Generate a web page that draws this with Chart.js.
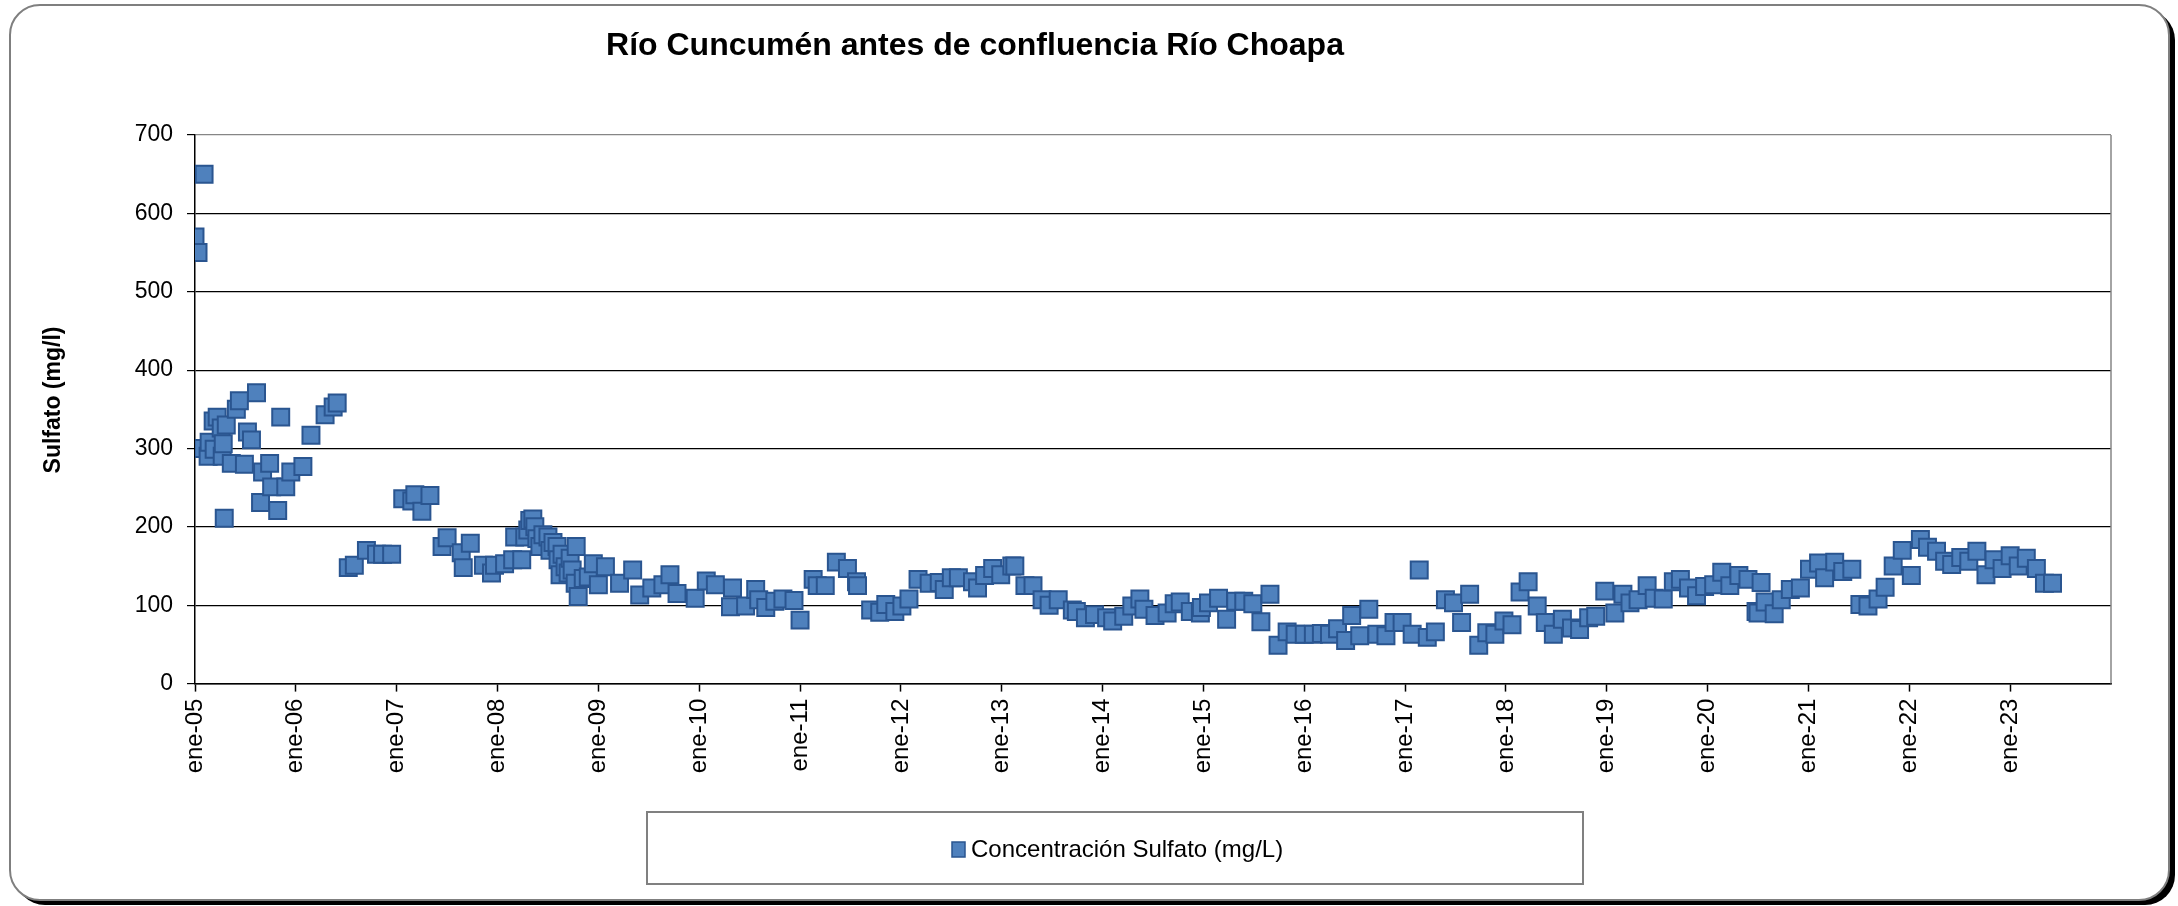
<!DOCTYPE html>
<html>
<head>
<meta charset="utf-8">
<script src="https://cdn.jsdelivr.net/npm/chart.js@4.4.1/dist/chart.umd.min.js"></script>
<style>
html,body{margin:0;padding:0;background:#fff;}
canvas{display:block;}
</style>
</head>
<body>
<canvas id="c" width="2178" height="906"></canvas>
<script>
// ---- texts ----
const titulo = 'Río Cuncumén antes de confluencia Río Choapa';
const tituloEjeY = 'Sulfato (mg/l)';
const nombreSerie = 'Concentración Sulfato (mg/L)';

// ---- tick labels ----
const aniosTicks = [2005,2006,2007,2008,2009,2010,2011,2012,2013,2014,2015,2016,2017,2018,2019,2020,2021,2022,2023];
const etiquetasX = ['ene-05','ene-06','ene-07','ene-08','ene-09','ene-10','ene-11','ene-12','ene-13','ene-14','ene-15','ene-16','ene-17','ene-18','ene-19','ene-20','ene-21','ene-22','ene-23'];
const ticksY = [0,100,200,300,400,500,600,700];

// ---- data: sampling date (decimal year) and sulfate (mg/l) ----
const fechas = [
2005.00,2005.03,2005.08,2005.09,2005.13,2005.14,2005.18,2005.19,2005.22,2005.26,2005.27,2005.28,2005.29,2005.31,2005.36,2005.41,2005.44,2005.49,2005.52,2005.56,2005.61,2005.65,2005.67,2005.74,2005.76,2005.82,2005.85,2005.90,2005.95,
2006.07,2006.15,2006.29,2006.37,2006.41,2006.52,2006.58,2006.70,2006.80,2006.86,2006.95,
2007.06,2007.15,2007.18,2007.25,2007.33,2007.45,2007.50,2007.64,2007.66,2007.73,2007.86,2007.94,2007.97,
2008.07,2008.15,2008.17,2008.24,2008.27,2008.30,2008.32,2008.35,2008.37,2008.39,2008.42,2008.45,2008.50,2008.52,2008.55,2008.59,2008.60,2008.62,2008.64,2008.67,2008.70,2008.72,2008.74,2008.77,2008.78,2008.80,2008.85,2008.90,2008.95,
2009.00,2009.07,2009.21,2009.34,2009.41,2009.53,2009.64,2009.71,2009.78,2009.96,
2010.07,2010.16,2010.31,2010.33,2010.46,2010.56,2010.59,2010.66,2010.75,2010.83,2010.94,
2011.00,2011.13,2011.17,2011.25,2011.36,2011.47,2011.56,2011.57,2011.70,2011.79,2011.85,2011.94,
2012.01,2012.08,2012.17,2012.28,2012.38,2012.43,2012.50,2012.57,2012.71,2012.76,2012.83,2012.91,2012.99,
2013.10,2013.13,2013.23,2013.31,2013.40,2013.47,2013.56,2013.70,2013.74,2013.83,2013.92,
2014.04,2014.10,2014.21,2014.29,2014.37,2014.41,2014.52,2014.64,2014.71,2014.77,2014.87,2014.97,2014.98,
2015.05,2015.15,2015.23,2015.32,2015.40,2015.49,2015.57,2015.66,2015.74,2015.83,2015.91,
2016.00,2016.09,2016.17,2016.25,2016.33,2016.41,2016.47,2016.55,2016.64,2016.72,2016.81,2016.89,2016.97,
2017.07,2017.14,2017.22,2017.30,2017.40,2017.48,2017.56,2017.64,2017.73,2017.81,2017.89,2017.98,
2018.06,2018.14,2018.22,2018.31,2018.39,2018.47,2018.56,2018.65,2018.73,2018.82,2018.89,2018.98,
2019.08,2019.16,2019.23,2019.31,2019.40,2019.47,2019.56,2019.66,2019.73,2019.81,2019.89,2019.97,
2020.06,2020.14,2020.22,2020.31,2020.40,2020.48,2020.50,2020.53,2020.57,2020.66,2020.73,2020.82,2020.92,
2021.01,2021.10,2021.16,2021.26,2021.34,2021.43,2021.51,2021.59,2021.69,2021.76,2021.84,2021.93,
2022.02,2022.11,2022.18,2022.27,2022.35,2022.42,2022.51,2022.59,2022.67,2022.76,2022.84,2022.92,
2023.00,2023.08,2023.16,2023.26,2023.34,2023.42
];
const sulfato = [
570,550,300,650,290,308,335,299,340,326,290,306,211,330,281,350,361,280,321,311,371,231,270,281,251,221,340,251,270,
277,317,343,353,358,148,151,170,165,165,165,
236,233,241,220,240,175,186,167,148,179,151,141,151,
153,158,187,158,187,196,208,210,200,185,175,190,187,170,180,175,158,139,165,149,141,160,145,128,175,111,134,136,153,
126,149,128,145,113,122,126,139,115,109,
131,126,98,122,99,120,107,97,105,108,106,
81,133,125,125,155,147,130,125,94,91,101,92,
99,108,133,128,129,120,135,135,130,122,138,147,139,
150,150,125,125,107,100,107,94,92,84,88,
84,80,86,99,108,95,87,90,102,104,92,90,97,
103,109,82,105,105,102,79,114,49,66,63,
63,63,64,63,70,55,87,61,95,63,61,78,78,
63,145,59,66,107,103,78,114,49,65,63,80,
75,117,130,99,78,63,82,71,69,84,86,118,
90,114,103,107,125,109,108,130,133,122,112,124,
126,142,125,138,133,92,90,129,104,89,107,120,122,
146,154,135,155,143,146,101,99,108,123,150,170,
138,184,174,169,156,152,161,156,169,139,158,147,
163,150,160,147,128,128
];

const puntos = fechas.map((f, i) => ({x: f, y: sulfato[i]}));

const FONT = '"Liberation Sans", Arial, Helvetica, sans-serif';
Chart.defaults.font.family = FONT;
Chart.defaults.color = '#000';

function roundRect(ctx, x, y, w, h, r) {
  ctx.beginPath();
  ctx.moveTo(x + r, y);
  ctx.lineTo(x + w - r, y);
  ctx.arcTo(x + w, y, x + w, y + r, r);
  ctx.lineTo(x + w, y + h - r);
  ctx.arcTo(x + w, y + h, x + w - r, y + h, r);
  ctx.lineTo(x + r, y + h);
  ctx.arcTo(x, y + h, x, y + h - r, r);
  ctx.lineTo(x, y + r);
  ctx.arcTo(x, y, x + r, y, r);
  ctx.closePath();
}

const marco = {
  id: 'marco',
  beforeDraw(chart) {
    const ctx = chart.ctx;
    ctx.save();
    ctx.fillStyle = '#fff';
    ctx.fillRect(0, 0, chart.width, chart.height);
    // shadow
    ctx.fillStyle = '#000';
    roundRect(ctx, 15, 10, 2160, 895, 30);
    ctx.fill();
    // frame
    ctx.fillStyle = '#fff';
    roundRect(ctx, 10, 5, 2159, 895, 30);
    ctx.fill();
    ctx.strokeStyle = '#7f7f7f';
    ctx.lineWidth = 2;
    ctx.stroke();
    // title
    ctx.fillStyle = '#000';
    ctx.font = 'bold 32px ' + FONT;
    ctx.textAlign = 'center';
    ctx.textBaseline = 'alphabetic';
    ctx.fillText(titulo, 975, 55);
    // y axis title
    ctx.save();
    ctx.translate(54, 400);
    ctx.rotate(-Math.PI / 2);
    ctx.font = 'bold 23px ' + FONT;
    ctx.textBaseline = 'middle';
    ctx.fillText(tituloEjeY, 0, 0);
    ctx.restore();
    ctx.restore();
  },
  beforeDatasetsDraw(chart) {
    const {ctx, chartArea: a} = chart;
    ctx.save();
    ctx.strokeStyle = '#868686';
    ctx.lineWidth = 1.5;
    ctx.beginPath();
    ctx.moveTo(a.right, a.top);
    ctx.lineTo(a.right, a.bottom);
    ctx.stroke();
    ctx.restore();
  },
  afterDraw(chart) {
    const ctx = chart.ctx;
    const ds = chart.data.datasets[0];
    ctx.save();
    ctx.strokeStyle = '#808080';
    ctx.lineWidth = 2;
    ctx.strokeRect(647, 812, 936, 72);
    ctx.fillStyle = ds.backgroundColor;
    ctx.fillRect(952, 842, 13, 15);
    ctx.strokeStyle = ds.borderColor;
    ctx.lineWidth = 1.5;
    ctx.strokeRect(952, 842, 13, 15);
    ctx.fillStyle = '#000';
    ctx.font = '24px ' + FONT;
    ctx.textAlign = 'left';
    ctx.textBaseline = 'middle';
    ctx.fillText(ds.label, 971, 850);
    ctx.restore();
  }
};

new Chart(document.getElementById('c'), {
  type: 'scatter',
  data: {
    datasets: [{
      label: nombreSerie,
      data: puntos,
      pointStyle: 'rect',
      pointRadius: 12,
      pointHoverRadius: 12,
      backgroundColor: '#4F81BD',
      borderColor: '#2A5590',
      borderWidth: 2,
      showLine: false
    }]
  },
  options: {
    responsive: false,
    devicePixelRatio: 1,
    animation: false,
    events: [],
    layout: {padding: {left: 0, right: 67, top: 135, bottom: 0}},
    plugins: {
      legend: {display: false},
      tooltip: {enabled: false},
      title: {display: false}
    },
    scales: {
      x: {
        type: 'linear',
        min: 2005,
        max: 2024,
        afterFit(s) { s.height = 222.4; },
        ticks: {
          stepSize: 1,
          maxTicksLimit: 40,
          autoSkip: false,
          minRotation: 90,
          maxRotation: 90,
          padding: 7,
          font: {size: 24},
          color: '#000',
          callback(v) {
            const i = aniosTicks.indexOf(Math.round(v));
            return i >= 0 ? etiquetasX[i] : '';
          }
        },
        grid: {
          drawOnChartArea: false,
          drawTicks: true,
          tickLength: 8,
          tickWidth: 1.5,
          tickColor(c) { return (c.tick && aniosTicks.indexOf(Math.round(c.tick.value)) >= 0) ? '#000' : 'rgba(0,0,0,0)'; }
        },
        border: {color: '#000', width: 1.5}
      },
      y: {
        min: ticksY[0],
        max: ticksY[ticksY.length - 1],
        afterFit(s) { s.width = 195; },
        ticks: {
          stepSize: 100,
          padding: 14,
          font: {size: 23},
          color: '#000'
        },
        grid: {
          tickLength: 8,
          lineWidth: 1.2,
          color(c) { return (c.tick && c.tick.value === 700) ? '#868686' : '#000'; },
          tickColor: '#000'
        },
        border: {color: '#000', width: 1.5},
        title: {display: false}
      }
    }
  },
  plugins: [marco]
});
</script>
</body>
</html>
